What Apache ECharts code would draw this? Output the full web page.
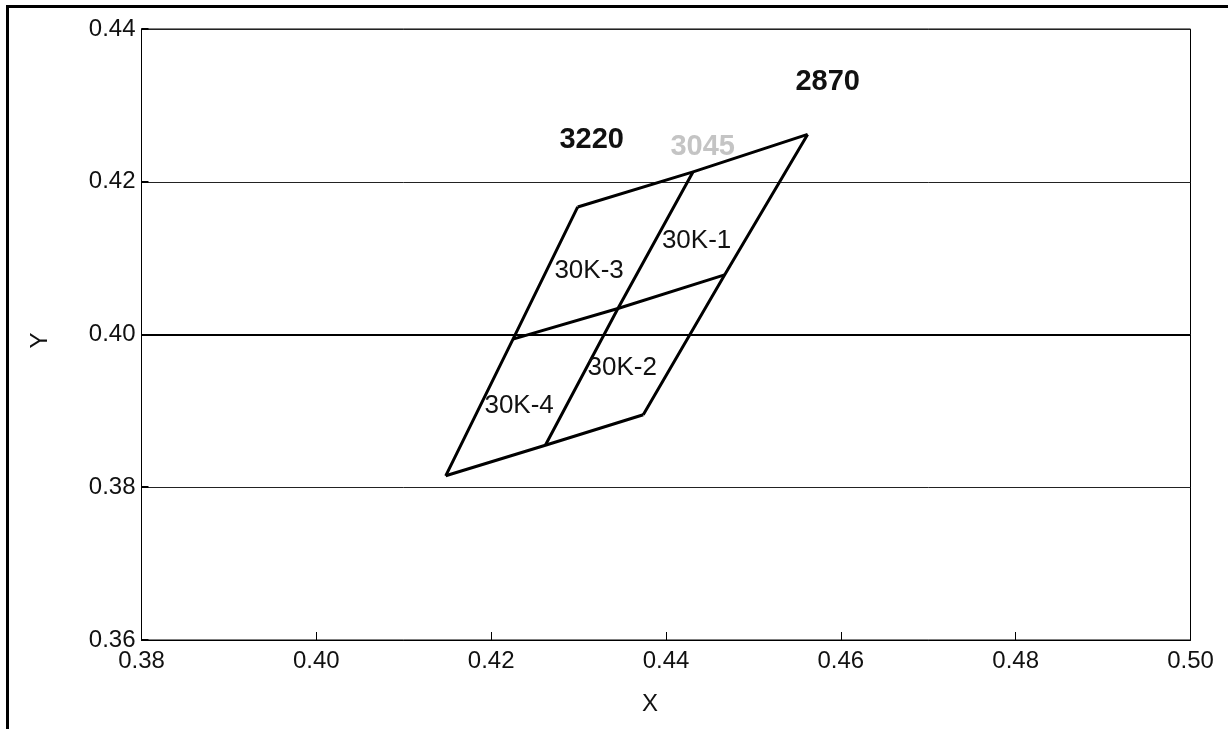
<!DOCTYPE html>
<html>
<head>
<meta charset="utf-8">
<script src="https://cdn.jsdelivr.net/npm/echarts@6/dist/echarts.min.js"></script>
<style>
  html, body { margin: 0; padding: 0; background: #fff; }
  #chart { width: 1228px; height: 729px; }
</style>
</head>
<body>
<div id="chart"></div>
<script>
// Chromaticity quadrangle nodes (x, y), three rows of three points
const topRow    = [[0.4299, 0.4167], [0.4431, 0.4213], [0.4562, 0.4262]];
const middleRow = [[0.4225, 0.3994], [0.4345, 0.4034], [0.4467, 0.4078]];
const bottomRow = [[0.4148, 0.3815], [0.4262, 0.3855], [0.4374, 0.3895]];

// CCT labels along the top edge
const cctNames  = ['3220', '3045', '2870'];
const cctPoints = [[0.4315, 0.4255], [0.4442, 0.4245], [0.4585, 0.4331]];
const cctColors = ['#111111', '#c4c4c4', '#111111'];

// Sub-region labels
const regionNames  = ['30K-1', '30K-2', '30K-3', '30K-4'];
const regionPoints = [[0.4435, 0.4123], [0.4350, 0.3957], [0.4312, 0.4083], [0.4232, 0.3906]];

// Axis ranges and tick labels
const xTicks = ['0.38', '0.40', '0.42', '0.44', '0.46', '0.48', '0.50'];
const yTicks = ['0.36', '0.38', '0.40', '0.42', '0.44'];

const FONT = '"Liberation Sans", Arial, sans-serif';
const edgeStyle = { color: '#000', width: 3, join: 'miter' };

function polyline(points) {
  return {
    type: 'line',
    data: points,
    symbol: 'none',
    lineStyle: edgeStyle,
    silent: true,
    z: 5
  };
}

const rows = [topRow, middleRow, bottomRow];
const columns = [0, 1, 2].map(i => rows.map(r => r[i]));

const series = [];
rows.forEach(r => series.push(polyline(r)));
columns.forEach(c => series.push(polyline(c)));

// heavier reference line at y = 0.40
series.push({
  type: 'line',
  data: [],
  markLine: {
    silent: true,
    symbol: 'none',
    label: { show: false },
    lineStyle: { color: '#000', width: 2, type: 'solid' },
    data: [{ yAxis: parseFloat(yTicks[2]) }]
  },
  z: 3
});

function textSeries(points, names, label, colors) {
  return {
    type: 'scatter',
    symbolSize: 0,
    silent: true,
    z: 6,
    itemStyle: { opacity: 1 },
    data: points.map((p, i) => ({
      value: p,
      name: names[i],
      label: colors ? { color: colors[i] } : {}
    })),
    label: Object.assign({
      show: true,
      position: [0, 0],
      align: 'center',
      verticalAlign: 'middle',
      formatter: p => p.name,
      fontFamily: FONT,
      opacity: 1
    }, label)
  };
}

series.push(textSeries(cctPoints, cctNames, { fontSize: 29, fontWeight: 'bold' }, cctColors));
series.push(textSeries(regionPoints, regionNames, { fontSize: 26, color: '#111' }));

const chart = echarts.init(document.getElementById('chart'), null, { renderer: 'canvas' });
chart.setOption({
  animation: false,
  backgroundColor: '#fff',
  grid: {
    left: 141.5, right: 37.5, top: 29, bottom: 89,
    show: true, borderColor: '#000', borderWidth: 1, backgroundColor: 'transparent'
  },
  xAxis: {
    type: 'value',
    min: parseFloat(xTicks[0]),
    max: parseFloat(xTicks[xTicks.length - 1]),
    interval: 0.02,
    name: 'X',
    nameLocation: 'middle',
    nameGap: 52,
    nameTextStyle: { fontFamily: FONT, fontSize: 24, color: '#111', padding: [0, 32, 0, 0] },
    axisLine: { show: true, lineStyle: { color: '#000', width: 1 } },
    axisTick: { show: true, inside: true, length: 8, lineStyle: { color: '#000', width: 1 } },
    axisLabel: {
      fontFamily: FONT, fontSize: 24, color: '#111', margin: 9,
      formatter: v => v.toFixed(2)
    },
    splitLine: { show: false }
  },
  yAxis: {
    type: 'value',
    min: parseFloat(yTicks[0]),
    max: parseFloat(yTicks[yTicks.length - 1]),
    interval: 0.02,
    name: 'Y',
    nameLocation: 'middle',
    nameRotate: 90,
    nameGap: 89,
    nameTextStyle: { fontFamily: FONT, fontSize: 24, color: '#111', padding: [0, 12, 0, 0] },
    axisLine: { show: true, lineStyle: { color: '#000', width: 1 } },
    axisTick: { show: true, inside: true, length: 7, lineStyle: { color: '#000', width: 2 } },
    axisLabel: {
      fontFamily: FONT, fontSize: 24, color: '#111', margin: 6,
      formatter: v => v.toFixed(2)
    },
    splitLine: { show: true, lineStyle: { color: '#222', width: 1 } }
  },
  graphic: [
    { type: 'rect', shape: { x: 6, y: 5, width: 1222, height: 3 }, style: { fill: '#000' }, silent: true },
    { type: 'rect', shape: { x: 6, y: 5, width: 3, height: 724 }, style: { fill: '#000' }, silent: true }
  ],
  series: series
});
</script>
</body>
</html>
